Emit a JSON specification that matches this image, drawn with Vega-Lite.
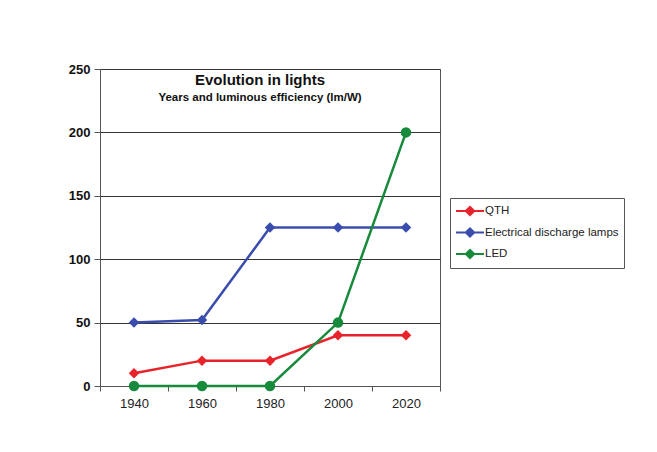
{
  "$schema": "https://vega.github.io/schema/vega-lite/v6.json",
  "width": 340,
  "height": 317,
  "autosize": "none",
  "padding": {"left": 100, "top": 69, "right": 217, "bottom": 66},
  "background": "white",
  "config": {
    "font": "Liberation Sans",
    "view": {"stroke": "#555", "strokeWidth": 1}
  },
  "title": {
    "text": "Evolution in lights",
    "subtitle": "Years and luminous efficiency (lm/W)",
    "orient": "top",
    "anchor": "middle",
    "offset": -40,
    "dx": -10,
    "font": "Liberation Sans",
    "fontSize": 15,
    "fontWeight": "bold",
    "color": "#111",
    "subtitleFont": "Liberation Sans",
    "subtitleFontSize": 11.5,
    "subtitleFontWeight": "bold",
    "subtitleColor": "#111",
    "subtitlePadding": 4
  },
  "data": {
    "values": [
      {"year": "1940", "series": "QTH", "value": 10},
      {"year": "1960", "series": "QTH", "value": 20},
      {"year": "1980", "series": "QTH", "value": 20},
      {"year": "2000", "series": "QTH", "value": 40},
      {"year": "2020", "series": "QTH", "value": 40},
      {"year": "1940", "series": "Electrical discharge lamps", "value": 50},
      {"year": "1960", "series": "Electrical discharge lamps", "value": 52},
      {"year": "1980", "series": "Electrical discharge lamps", "value": 125},
      {"year": "2000", "series": "Electrical discharge lamps", "value": 125},
      {"year": "2020", "series": "Electrical discharge lamps", "value": 125},
      {"year": "1940", "series": "LED", "value": 0},
      {"year": "1960", "series": "LED", "value": 0},
      {"year": "1980", "series": "LED", "value": 0},
      {"year": "2000", "series": "LED", "value": 50},
      {"year": "2020", "series": "LED", "value": 200}
    ]
  },
  "encoding": {
    "x": {
      "field": "year",
      "type": "ordinal",
      "scale": {"type": "band", "paddingInner": 0, "paddingOuter": 0},
      "axis": {
        "title": null,
        "labelAngle": 0,
        "tickBand": "extent",
        "labelFontSize": 13,
        "labelColor": "#222",
        "labelPadding": 6,
        "tickSize": 5,
        "tickColor": "#555",
        "domainColor": "#555",
        "grid": false
      }
    },
    "y": {
      "field": "value",
      "type": "quantitative",
      "scale": {"domain": [0, 250], "nice": false},
      "axis": {
        "title": null,
        "values": [0, 50, 100, 150, 200, 250],
        "labelFontSize": 13,
        "labelFontWeight": "bold",
        "labelColor": "#111",
        "labelPadding": 4,
        "tickSize": 6,
        "tickColor": "#555",
        "domainColor": "#555",
        "grid": true,
        "gridColor": "#333",
        "gridOpacity": 1,
        "gridWidth": 1
      }
    },
    "color": {
      "field": "series",
      "type": "nominal",
      "scale": {
        "domain": ["QTH", "Electrical discharge lamps", "LED"],
        "range": ["#e8232b", "#3a4dad", "#178a3c"]
      },
      "legend": {
        "title": null,
        "orient": "none",
        "legendX": 350,
        "legendY": 129,
        "strokeColor": "#555",
        "padding": 5,
        "labelFontSize": 11.5,
        "labelColor": "#222",
        "symbolType": "M-1,0H3M0.4,0L1,-0.6L1.6,0L1,0.6Z",
        "symbolSize": 196,
        "symbolStrokeWidth": 2,
        "labelOffset": 14,
        "rowPadding": 3.5,
        "fillColor": "white"
      }
    }
  },
  "layer": [
    {"mark": {"type": "line", "strokeWidth": 2.5}},
    {
      "transform": [{"filter": "datum.series !== 'LED'"}],
      "mark": {"type": "point", "shape": "diamond", "filled": true, "opacity": 1, "size": 110}
    },
    {
      "transform": [{"filter": "datum.series === 'LED'"}],
      "mark": {"type": "point", "shape": "circle", "filled": true, "opacity": 1, "size": 110}
    }
  ]
}
